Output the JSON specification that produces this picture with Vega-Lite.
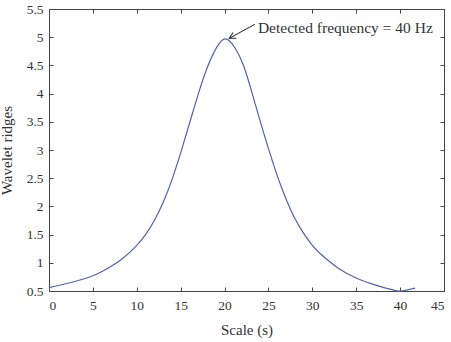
{
  "$schema": "https://vega.github.io/schema/vega-lite/v6.json",
  "width": 395,
  "height": 282,
  "autosize": {"type": "none"},
  "padding": {"left": 49, "top": 9, "right": 7, "bottom": 51},
  "config": {
    "view": {"stroke": null},
    "font": "Liberation Serif",
    "axis": {
      "grid": false,
      "domainColor": "#444",
      "domainWidth": 1,
      "tickColor": "#444",
      "tickSize": -4,
      "labelFont": "Liberation Serif",
      "labelFontSize": 13.5,
      "labelColor": "#333",
      "titleFont": "Liberation Serif",
      "titleFontSize": 15,
      "titleFontWeight": "normal",
      "titleColor": "#333"
    }
  },
  "datasets": {
    "curve": [
      {"scale": 0, "ridge": 0.56},
      {"scale": 2.5, "ridge": 0.65},
      {"scale": 5, "ridge": 0.77},
      {"scale": 7, "ridge": 0.93},
      {"scale": 8.5, "ridge": 1.09},
      {"scale": 10, "ridge": 1.31},
      {"scale": 11, "ridge": 1.5},
      {"scale": 12, "ridge": 1.75},
      {"scale": 13, "ridge": 2.07},
      {"scale": 14, "ridge": 2.47},
      {"scale": 15, "ridge": 2.95},
      {"scale": 16, "ridge": 3.47},
      {"scale": 17, "ridge": 3.99},
      {"scale": 18, "ridge": 4.45},
      {"scale": 19.1, "ridge": 4.82},
      {"scale": 20.1, "ridge": 4.97},
      {"scale": 21.1, "ridge": 4.83},
      {"scale": 22.2, "ridge": 4.48},
      {"scale": 23.3, "ridge": 3.92},
      {"scale": 24.4, "ridge": 3.33},
      {"scale": 25.5, "ridge": 2.78},
      {"scale": 26.5, "ridge": 2.33},
      {"scale": 27.5, "ridge": 1.95},
      {"scale": 28.5, "ridge": 1.65},
      {"scale": 30, "ridge": 1.31},
      {"scale": 31.5, "ridge": 1.08},
      {"scale": 33, "ridge": 0.9},
      {"scale": 35, "ridge": 0.73},
      {"scale": 37.5, "ridge": 0.59},
      {"scale": 39.6, "ridge": 0.505},
      {"scale": 40.6, "ridge": 0.51},
      {"scale": 41.7, "ridge": 0.55}
    ],
    "ann": [
      {"x": 23.46, "y": 5.23, "x2": 20.54, "y2": 4.98, "tx": 23.8, "ty": 5.16, "label": "Detected frequency = 40 Hz"}
    ]
  },
  "layer": [
    {
      "data": {"name": "curve"},
      "mark": {"type": "line", "color": "#5262b0", "strokeWidth": 1.2, "interpolate": "natural"},
      "encoding": {
        "x": {"field": "scale", "type": "quantitative", "scale": {"domain": [0, 45], "nice": false, "zero": false},
              "axis": {"orient": "bottom", "title": "Scale (s)", "values": [0,5,10,15,20,25,30,35,40,45], "labelPadding": 11, "titlePadding": 11}},
        "y": {"field": "ridge", "type": "quantitative", "scale": {"domain": [0.5, 5.5], "nice": false, "zero": false},
              "axis": {"orient": "left", "title": "Wavelet ridges", "values": [0.5,1,1.5,2,2.5,3,3.5,4,4.5,5,5.5], "format": "~g", "labelPadding": 10, "titlePadding": 12}}
      }
    },
    {
      "data": {"name": "curve"},
      "mark": {"type": "line", "strokeOpacity": 0},
      "encoding": {
        "x": {"field": "scale", "type": "quantitative", "scale": {"domain": [0, 45], "nice": false, "zero": false},
              "axis": {"orient": "top", "title": null, "labels": false, "values": [0,5,10,15,20,25,30,35,40,45]}},
        "y": {"field": "ridge", "type": "quantitative", "scale": {"domain": [0.5, 5.5], "nice": false, "zero": false},
              "axis": {"orient": "right", "title": null, "labels": false, "values": [0.5,1,1.5,2,2.5,3,3.5,4,4.5,5,5.5]}}
      }
    },
    {
      "data": {"name": "ann"},
      "mark": {"type": "rule", "color": "#222", "strokeWidth": 1},
      "encoding": {
        "x": {"field": "x", "type": "quantitative", "axis": null},
        "y": {"field": "y", "type": "quantitative", "axis": null},
        "x2": {"field": "x2"},
        "y2": {"field": "y2"}
      }
    },
    {
      "data": {"name": "ann"},
      "mark": {"type": "point", "shape": "M -0.55 1 L 0 0 L 0.55 1", "filled": false, "stroke": "#222", "strokeWidth": 1, "size": 150, "angle": 241, "opacity": 1},
      "encoding": {
        "x": {"field": "x2", "type": "quantitative", "axis": null},
        "y": {"field": "y2", "type": "quantitative", "axis": null}
      }
    },
    {
      "data": {"name": "ann"},
      "mark": {"type": "text", "align": "left", "baseline": "middle", "font": "Liberation Serif", "fontSize": 15.5, "color": "#333"},
      "encoding": {
        "x": {"field": "tx", "type": "quantitative", "axis": null},
        "y": {"field": "ty", "type": "quantitative", "axis": null},
        "text": {"field": "label"}
      }
    }
  ],
  "resolve": {"axis": {"x": "independent", "y": "independent"}}
}
